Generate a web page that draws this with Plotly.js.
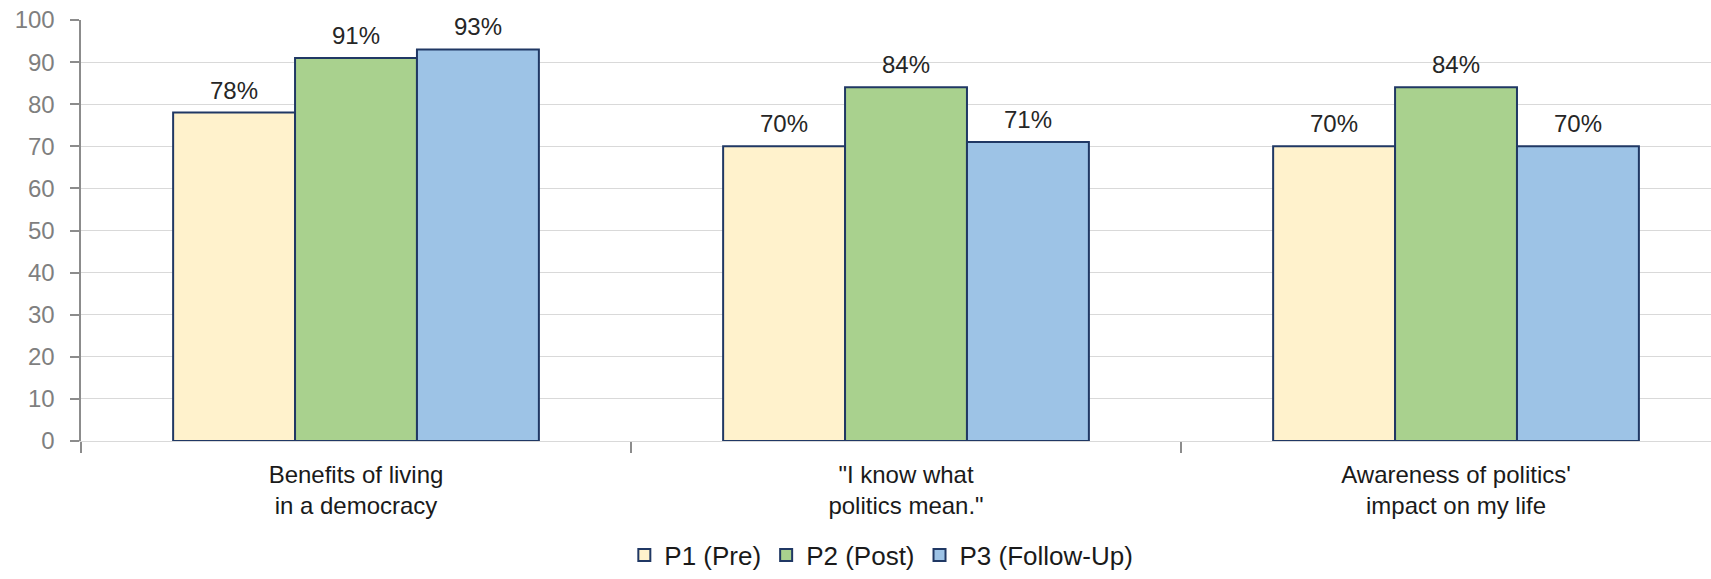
<!DOCTYPE html>
<html>
<head>
<meta charset="utf-8">
<script src="https://cdn.plot.ly/plotly-3.0.1.min.js"></script>
<style>html,body{margin:0;padding:0;background:#fff;}#chart{width:1711px;height:579px;}</style>
</head>
<body>
<div id="chart"></div>
<script>
var categories = ["Benefits of living<br>in a democracy", "\"I know what<br>politics mean.\"", "Awareness of politics'<br>impact on my life"];
var seriesNames = ["P1 (Pre)", "P2 (Post)", "P3 (Follow-Up)"];
var p1 = [78, 70, 70];
var p2 = [91, 84, 84];
var p3 = [93, 71, 70];
var colors = ["#FFF2CC", "#A9D18E", "#9DC3E6"];
var yTicks = [0, 10, 20, 30, 40, 50, 60, 70, 80, 90, 100];

var FONT = "Liberation Sans, Arial, sans-serif";
var bargap = 0.335;
var values = [p1, p2, p3];
var nSeries = values.length;
var barW = (1 - bargap) / nSeries;

var traces = values.map(function (v, i) {
  return {
    type: "bar",
    name: seriesNames[i],
    x: categories,
    y: v,
    marker: {color: colors[i], line: {color: "#203864", width: 2}},
    hoverinfo: "skip"
  };
});

// data labels placed from the same arrays, at each bar's centre in category units
var annotations = [];
values.forEach(function (v, i) {
  v.forEach(function (d, j) {
    annotations.push({
      xref: "x", yref: "y",
      x: j + (i - (nSeries - 1) / 2) * barW,
      y: d,
      text: d + "%",
      showarrow: false,
      xanchor: "center", yanchor: "bottom",
      yshift: 7,
      font: {family: FONT, size: 24, color: "#262626"}
    });
  });
});

var layout = {
  width: 1711,
  height: 579,
  margin: {l: 81, r: 0, t: 20, b: 129},
  paper_bgcolor: "#ffffff",
  plot_bgcolor: "#ffffff",
  barmode: "group",
  bargap: bargap,
  bargroupgap: 0,
  font: {family: FONT, size: 24, color: "#1a1a1a"},
  showlegend: true,
  legend: {
    orientation: "h",
    x: 0.491, xanchor: "center",
    y: -0.271, yanchor: "middle",
    font: {family: FONT, size: 26, color: "#1a1a1a"},
    itemwidth: 30,
    traceorder: "normal"
  },
  annotations: annotations,
  xaxis: {
    type: "category",
    range: [-0.5, 2.4636],
    showline: true,
    linecolor: "#d9d9d9",
    linewidth: 1,
    ticks: "outside",
    tickson: "boundaries",
    ticklen: 11,
    tickcolor: "#8c8c8c",
    tickwidth: 1.5,
    ticklabelstandoff: 12,
    tickfont: {family: FONT, size: 24, color: "#1a1a1a"},
    showgrid: false,
    zeroline: false,
    fixedrange: true
  },
  yaxis: {
    range: [0, 100],
    tickvals: yTicks,
    ticktext: yTicks.map(String),
    showline: true,
    linecolor: "#8c8c8c",
    linewidth: 2.5,
    ticks: "outside",
    ticklen: 9,
    tickwidth: 2,
    tickcolor: "#8c8c8c",
    ticklabelstandoff: 10,
    tickfont: {family: FONT, size: 24, color: "#7f7f7f"},
    showgrid: true,
    gridcolor: "#d9d9d9",
    gridwidth: 1,
    zeroline: false,
    fixedrange: true
  }
};

Plotly.newPlot("chart", traces, layout, {displayModeBar: false, staticPlot: true});
</script>
</body>
</html>
